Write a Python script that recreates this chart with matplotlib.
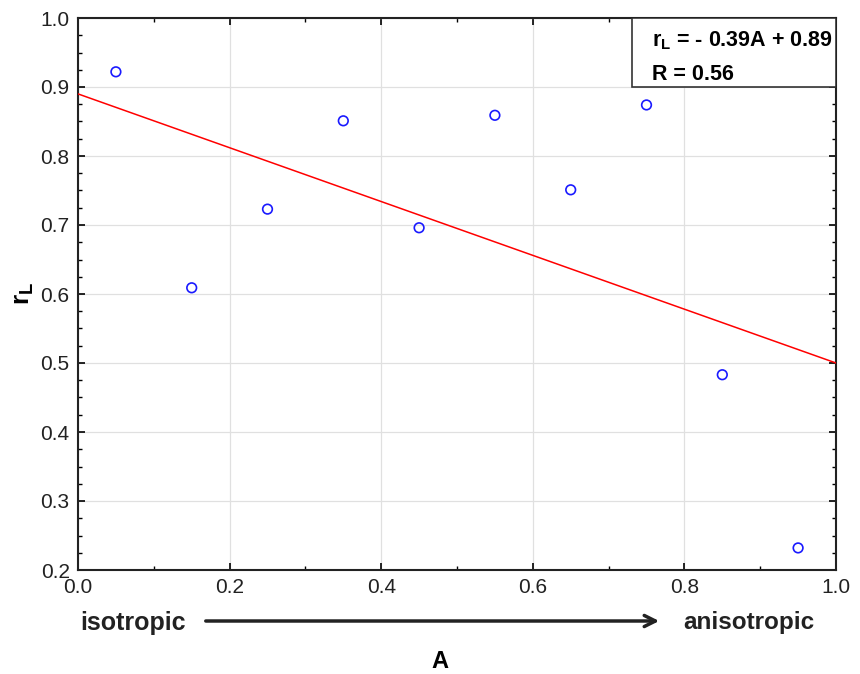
import numpy as np
import matplotlib.pyplot as plt
from matplotlib.ticker import MultipleLocator

plt.rcParams['font.family'] = ['Liberation Sans', 'DejaVu Sans']

# anisotropy index and measured r_L
A = [0.05, 0.15, 0.25, 0.35, 0.45, 0.55, 0.65, 0.75, 0.85, 0.95]
rL = [0.922, 0.609, 0.723, 0.851, 0.696, 0.859, 0.751, 0.874, 0.483, 0.232]

# regression as reported
slope = -0.39
intercept = 0.89
R = 0.56

fig = plt.figure(figsize=(8.6, 6.74), dpi=100)
ax = fig.add_axes([78 / 860, 1 - 570 / 674, 758 / 860, 552 / 674])

xs = np.array([0.0, 1.0])
ax.plot(xs, slope * xs + intercept, color='#ff0000', lw=1.1, zorder=3)
ax.scatter(A, rL, s=48, facecolors='none', edgecolors='#1a1aff', linewidths=1.2, zorder=4)

ax.set_xlim(0, 1)
ax.set_ylim(0.2, 1.0)
ax.xaxis.set_major_locator(MultipleLocator(0.2))
ax.xaxis.set_minor_locator(MultipleLocator(0.1))
ax.yaxis.set_major_locator(MultipleLocator(0.1))
ax.yaxis.set_minor_locator(MultipleLocator(0.025))
ax.grid(True, which='major', color='#e0e0e0', lw=0.9)
ax.set_axisbelow(True)
ax.tick_params(which='both', direction='in', top=True, right=True, labelsize=15, pad=6,
               labelcolor='#222222')
ax.tick_params(which='major', length=5, width=1.2)
ax.tick_params(which='minor', length=3, width=1.0)
ax.xaxis.set_major_formatter(plt.FuncFormatter(lambda v, p: f'{v:.1f}'))
ax.yaxis.set_major_formatter(plt.FuncFormatter(lambda v, p: f'{v:.1f}'))
for s in ax.spines.values():
    s.set_linewidth(1.5)
    s.set_color('#222222')

# y axis label
fig.text(24 / 860, 1 - 293 / 674, r'r$_{\mathregular{L}}$', fontsize=19, fontweight='bold',
         rotation=90, va='center', ha='center')

# equation box in the top right corner
box = plt.Rectangle((0.731, 0.875), 0.269, 0.125, transform=ax.transAxes,
                    facecolor='white', edgecolor='#333333', lw=1.2, zorder=5)
ax.add_patch(box)
ax.text(0.757, 0.958, r'r$_{\mathregular{L}}$' + f' = - {abs(slope):.2f}A + {intercept:.2f}',
        transform=ax.transAxes, fontsize=15.5, fontweight='bold', va='center', ha='left', zorder=6)
ax.text(0.757, 0.897, f'R = {R:.2f}', transform=ax.transAxes,
        fontsize=15.5, fontweight='bold', va='center', ha='left', zorder=6)

# direction of anisotropy below the axis
fig.text(80 / 860, 1 - 623 / 674, 'isotropic', fontsize=18, fontweight='bold',
         color='#222222', va='center', ha='left')
fig.text(683 / 860, 1 - 623 / 674, 'anisotropic', fontsize=17.5, fontweight='bold',
         color='#222222', va='center', ha='left')
fig.add_artist(plt.Annotation('', xy=(662 / 860, 1 - 621 / 674), xytext=(203 / 860, 1 - 621 / 674),
                              xycoords='figure fraction', textcoords='figure fraction',
                              arrowprops=dict(arrowstyle='->,head_length=0.8,head_width=0.4',
                                              lw=2.5, color='#222222')))
fig.text(440 / 860, 1 - 661 / 674, 'A', fontsize=17, fontweight='bold', va='center', ha='center')

fig.savefig('out.png', dpi=100)
